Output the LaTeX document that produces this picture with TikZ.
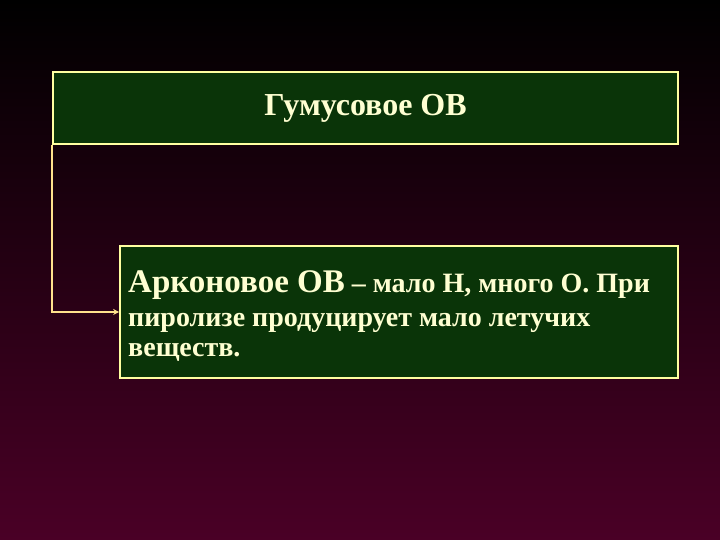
\documentclass[tikz,border=0pt]{standalone}
\usepackage{fontspec}
\setmainfont{Liberation Serif}
\usetikzlibrary{arrows.meta}
\definecolor{boxgreen}{RGB}{10,52,8}
\definecolor{edgeyellow}{RGB}{255,255,160}
\definecolor{linkyellow}{RGB}{255,225,140}
\definecolor{textcream}{RGB}{255,255,210}
\definecolor{bgbottom}{RGB}{74,0,38}
\tikzset{
  greenbox/.style={draw=edgeyellow, line width=1.6pt, fill=boxgreen, text=textcream, font=\bfseries, inner sep=0pt},
  boxtext/.style={text=textcream, inner sep=0pt, align=left, font=\bfseries\fontsize{28}{30.5}\selectfont},
  link/.style={draw=linkyellow, line width=1.6pt, -{Stealth[length=6pt,width=6pt]}}
}
\begin{document}
\begin{tikzpicture}[x=1pt,y=1pt]
\useasboundingbox (0,0) rectangle (720,540);
\shade[top color=black, bottom color=bgbottom] (0,0) rectangle (720,540);
\node[greenbox, minimum width=625pt, minimum height=72pt] (humus) at (365.5,432)
  {\fontsize{32}{36}\selectfont Гумусовое ОВ};
\node[greenbox, minimum width=558pt, minimum height=132pt] (arkon) at (399,228) {};
\node[boxtext, anchor=base west] (arkontext) at (128,183)
  {{\fontsize{33}{30.5}\selectfont Арконовое ОВ} – мало Н, много О. При\\[3pt]
   пиролизе продуцирует мало летучих\\
   веществ.};
\coordinate (corner) at (humus.south west |- arkon.west);
\draw[link] (humus.south west) -- (corner) -- (arkon.west);
\end{tikzpicture}
\end{document}
